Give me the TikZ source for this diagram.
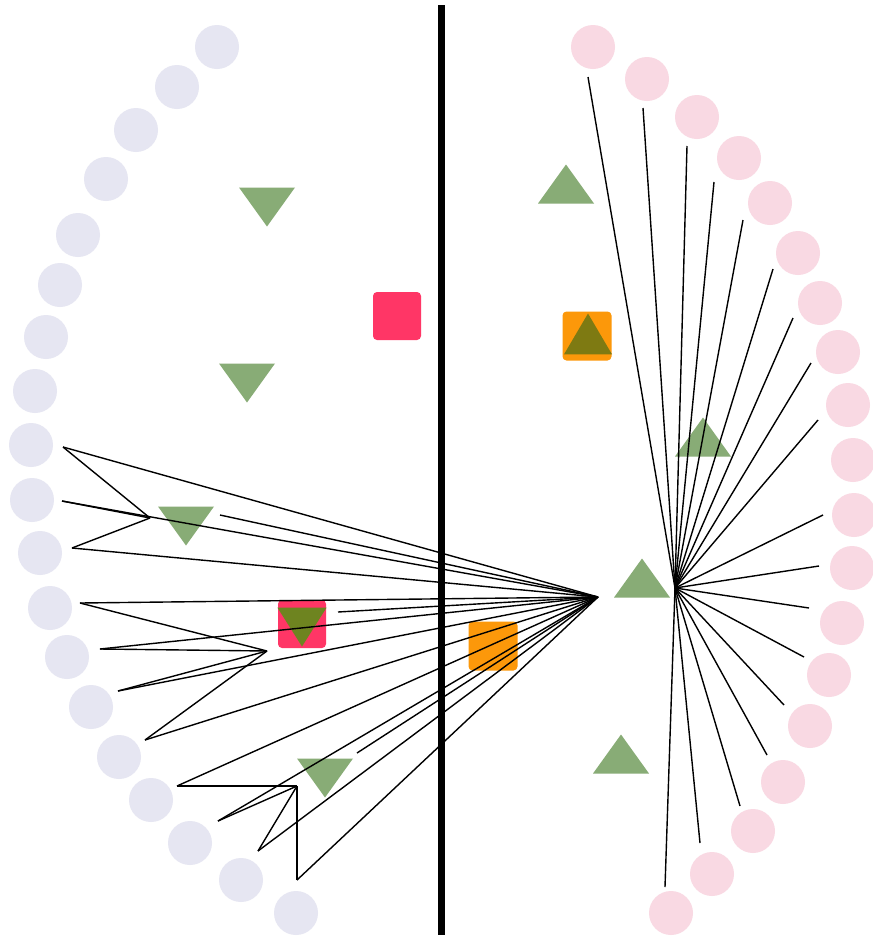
\documentclass[tikz,border=0pt]{standalone}
\usetikzlibrary{shapes.geometric}
\definecolor{lav}{RGB}{230,230,242}
\definecolor{pinkc}{RGB}{249,217,227}
\definecolor{trig}{RGB}{136,172,118}
\definecolor{olivered}{RGB}{110,132,32}
\definecolor{oliveor}{RGB}{126,122,18}
\definecolor{redsq}{RGB}{255,54,102}
\definecolor{orsq}{RGB}{252,152,10}
\tikzset{
  lavdot/.style={circle,fill=lav,minimum size=44pt,inner sep=0pt},
  pinkdot/.style={circle,fill=pinkc,minimum size=44pt,inner sep=0pt},
  redbox/.style={rectangle,rounded corners=4pt,fill=redsq,minimum size=48pt,inner sep=0pt},
  orbox/.style={rectangle,rounded corners=4pt,fill=orsq,minimum size=49pt,inner sep=0pt},
  edge/.style={draw=black,line width=1.4pt},
  downtri/.pic={\fill[pic actions] (-28,-19.5) -- (28,-19.5) -- (0,19.5) -- cycle;},
  uptri/.pic={\fill[pic actions] (-28,19.5) -- (28,19.5) -- (0,-19.5) -- cycle;}
}
\begin{document}
\begin{tikzpicture}[x=1pt,y=-1pt]
\useasboundingbox (0,0) rectangle (873,940);
\fill[white] (0,0) rectangle (873,940);
% left circles
\foreach \i/\x/\y in {1/217/47,2/177/87,3/136/130,4/106/179,5/78/235,6/60/285,7/46/337,8/35/391,9/31/445,10/32/500,11/40/553,12/50/608,13/67/657,14/91/707,15/119/757,16/151/800,17/190/843,18/241/880,19/296/913}
  \node[lavdot] (l\i) at (\x,\y) {};
% right circles
\foreach \i/\x/\y in {1/593/47,2/647/79,3/697/117,4/739/158,5/770/203,6/798/253,7/820/303,8/838/352,9/848/405,10/853/460,11/854/515,12/852/568,13/842/623,14/829/675,15/810/726,16/783/782,17/753/831,18/712/874,19/671/913}
  \node[pinkdot] (r\i) at (\x,\y) {};
% squares
\node[redbox] (sq1) at (397,316) {};
\node[redbox] (sq2) at (302,624) {};
\node[orbox] (sq3) at (587,336) {};
\node[orbox] (sq4) at (493,646) {};
% triangles
\pic[fill=trig] at (267,207) {downtri};
\pic[fill=trig] at (247,383) {downtri};
\pic[fill=trig] at (186,526) {downtri};
\pic[fill=olivered,xscale=0.88,yscale=1] at (302,627) {downtri};
\pic[fill=trig] at (325,778) {downtri};
\pic[fill=trig] at (566,184) {uptri};
\pic[fill=oliveor,xscale=0.86,yscale=1.05] at (588,334) {uptri};
\pic[fill=trig] at (703,437) {uptri};
\pic[fill=trig] at (642,578) {uptri};
\pic[fill=trig] at (621,754) {uptri};
% vertical bar
\coordinate (bartop) at (441,5);
\coordinate (barbot) at (441,935);
\draw[line width=7pt] (bartop) -- (barbot);
% left hub and points
\coordinate (H) at (598,597);
\coordinate (A) at (63,447);
\coordinate (B) at (150,518);
\coordinate (C) at (72,548);
\coordinate (D) at (62,501);
\coordinate (E) at (220,515);
\coordinate (F) at (80,603);
\coordinate (G) at (338,612);
\coordinate (I) at (267,651);
\coordinate (J) at (100,649);
\coordinate (K) at (118,691);
\coordinate (L) at (145,740);
\coordinate (M) at (177,786);
\coordinate (N) at (297,786);
\coordinate (O) at (218,821);
\coordinate (P) at (258,851);
\coordinate (Q) at (297,880);
\coordinate (R) at (357,753);
\foreach \a/\b in {A/H,A/B,B/C,C/H,D/H,D/B,E/H,F/H,F/I,G/H,J/H,J/I,K/H,K/I,I/L,L/H,M/H,M/N,N/O,O/H,N/P,P/H,N/Q,Q/H,R/H}
  \draw[edge] (\a) -- (\b);
% right hub and spokes
\coordinate (H2) at (675,588);
\foreach \i/\x/\y in {1/588/77,2/643/108,3/687/146,4/714/182,5/743/220,6/773/269,7/793/318,8/811/363,9/818/420,10/823/515,11/819/566,12/809/608,13/804/657,14/784/705,15/767/755,16/740/806,17/700/843,18/665/887}
{
  \coordinate (s\i) at (\x,\y);
  \draw[edge] (H2) -- (s\i);
}
\end{tikzpicture}
\end{document}
